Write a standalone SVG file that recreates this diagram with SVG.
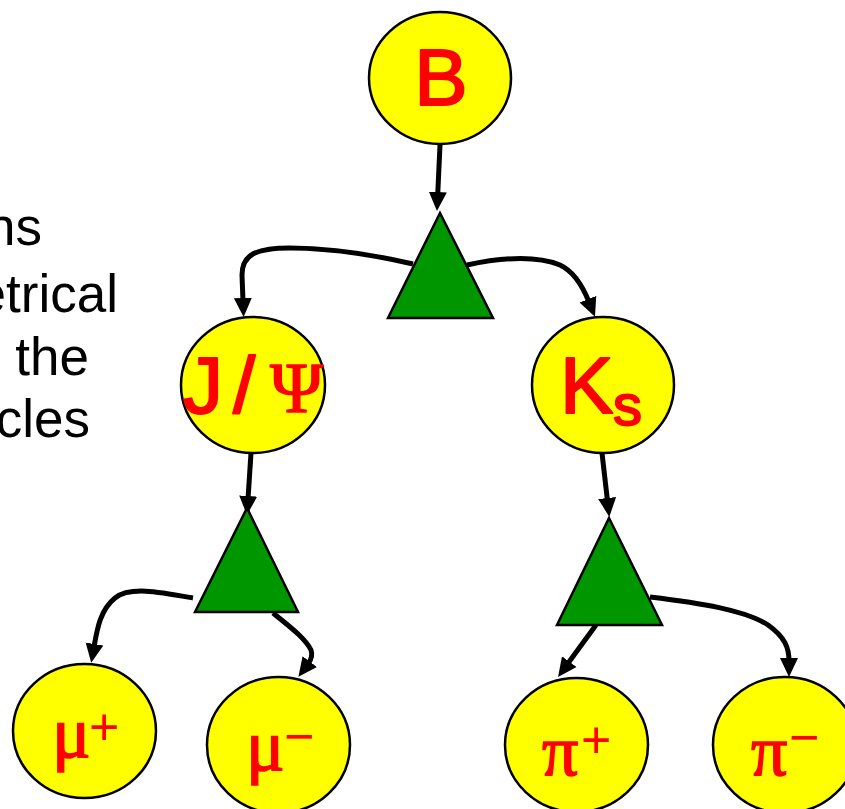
<svg xmlns="http://www.w3.org/2000/svg" width="845" height="809" viewBox="0 0 845 809">
<style>
.node ellipse{fill:#FFFF00;stroke:#000;stroke-width:2.5}
.tri{fill:#009600;stroke:#000;stroke-width:2.5;stroke-linejoin:miter}
.lbl{fill:#FF0000;stroke:#FF0000;stroke-width:2;stroke-linejoin:round;font-family:"Liberation Sans",Arial,sans-serif;font-size:80px}
.gr{fill:#FF0000;stroke:#FF0000;stroke-width:1.5;font-family:"Liberation Serif","Times New Roman",serif;font-size:72px}
.sup{fill:#FF0000;stroke:none;font-family:"Liberation Sans",Arial,sans-serif;font-size:52px}
.side{fill:#000;font-family:"Liberation Sans",Arial,sans-serif;font-size:53px;text-anchor:end}
.conn path{fill:none;stroke:#000;stroke-width:5;marker-end:url(#ah)}
</style>
<defs>
<marker id="ah" markerUnits="userSpaceOnUse" markerWidth="20" markerHeight="20" viewBox="0 0 20 20" refX="3" refY="10" orient="auto">
<path d="M0,1 L19,10 L0,19 z" fill="#000"/>
</marker>
</defs>
<rect width="845" height="809" fill="#fff"/>
<g id="side-text">
<text class="side" x="42" y="245">ns</text>
<text class="side" x="118" y="312">etrical</text>
<text class="side" x="89" y="375">the</text>
<text class="side" x="90" y="437">cles</text>
</g>
<g id="connectors" class="conn">
<path d="M440,145 L437.7,195"/>
<path d="M413,264 C370,254 330,248 290,248 C255,248 242,255 242,275 L243,301"/>
<path d="M467,265 C500,258 535,255 560,265 C575,272 583,287 589,302"/>
<path d="M251,453 L248,499"/>
<path d="M193,598 C160,592 130,586 115,598 C100,610 97,630 94,647"/>
<path d="M273,613 C290,627 305,638 311,650 C313,656 311,660 308,664"/>
<path d="M602,453 L607.5,501"/>
<path d="M596,625 L567.5,664"/>
<path d="M650,597 C700,603 745,610 768,625 C785,637 789,648 789,661"/>
</g>
<g id="vertex1"><polygon class="tri" points="440,213 388,318 493,318"/></g>
<g id="vertex2"><polygon class="tri" points="247,508 195,612 298,612"/></g>
<g id="vertex3"><polygon class="tri" points="609,518 557,625 662,625"/></g>
<g id="B" class="node"><ellipse cx="440" cy="78" rx="71" ry="66"/><text class="lbl" x="441" y="105" text-anchor="middle">B</text></g>
<g id="JPsi" class="node"><ellipse cx="253" cy="385" rx="72" ry="68"/><text class="lbl" y="413"><tspan x="183">J</tspan><tspan x="233">/</tspan><tspan class="gr" x="270" y="412">Ψ</tspan></text></g>
<g id="Ks" class="node"><ellipse cx="603" cy="385" rx="71" ry="68"/><text class="lbl" y="413"><tspan x="560">K</tspan><tspan x="613" y="425" font-size="58">s</tspan></text></g>
<g id="muplus" class="node"><ellipse cx="84.5" cy="731" rx="71.5" ry="67"/><text class="gr" x="52" y="757">μ<tspan class="sup" x="89" y="745">+</tspan></text></g>
<g id="muminus" class="node"><ellipse cx="278.5" cy="745" rx="71.5" ry="68"/><text class="gr" x="246" y="770">μ<tspan class="sup" x="284" y="754">−</tspan></text></g>
<g id="piplus" class="node"><ellipse cx="576.5" cy="745" rx="71.5" ry="67"/><text class="gr" x="542" y="775">π<tspan class="sup" x="581" y="758">+</tspan></text></g>
<g id="piminus" class="node"><ellipse cx="785" cy="745" rx="72" ry="68"/><text class="gr" x="751" y="775">π<tspan class="sup" x="789" y="755">−</tspan></text></g>
</svg>
